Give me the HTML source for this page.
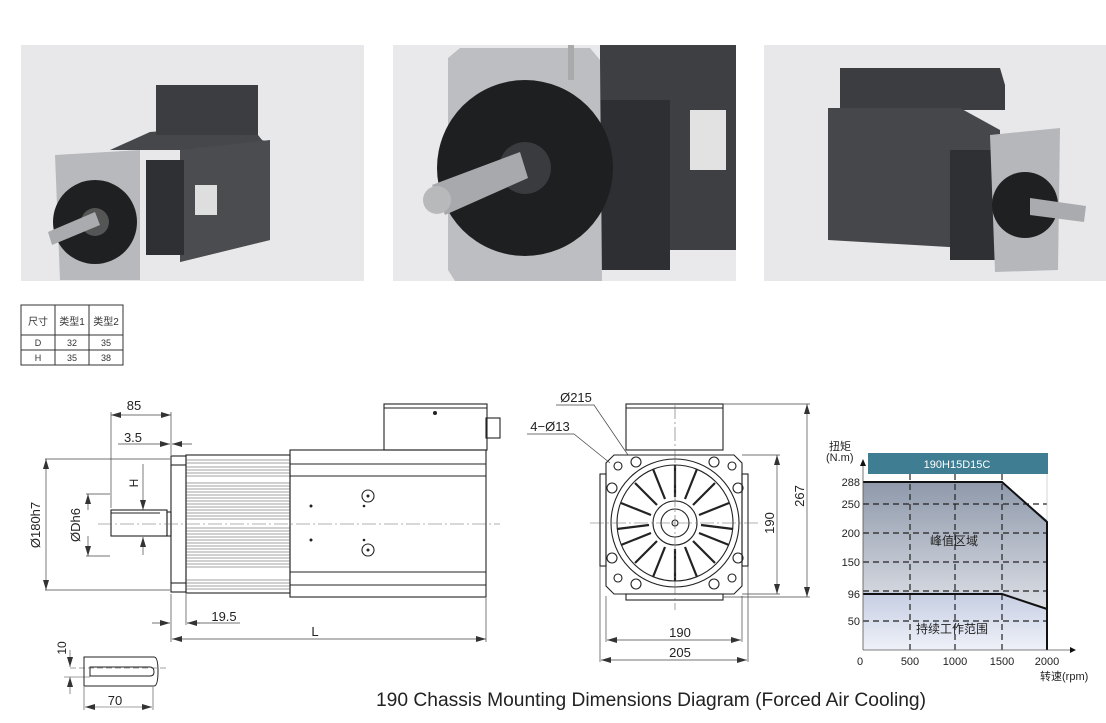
<!DOCTYPE html>
<html><head><meta charset="utf-8"><style>
html,body{margin:0;padding:0;background:#fff;}
svg{display:block;font-family:"Liberation Sans","Noto Sans CJK SC",sans-serif;}
</style></head><body>
<svg width="1106" height="723" viewBox="0 0 1106 723" xmlns="http://www.w3.org/2000/svg">
<defs>
<linearGradient id="pk" x1="0" y1="0" x2="0" y2="1"><stop offset="0" stop-color="#8f99ab"/><stop offset="1" stop-color="#f4f5f8"/></linearGradient>
<linearGradient id="ct" x1="0" y1="0" x2="0" y2="1"><stop offset="0" stop-color="#c5cde2"/><stop offset="1" stop-color="#eef1f8"/></linearGradient>
<marker id="ar" viewBox="0 0 10 6" refX="10" refY="3" markerWidth="10" markerHeight="6" orient="auto-start-reverse" markerUnits="userSpaceOnUse"><path d="M0,0L10,3L0,6z" fill="#333"/></marker>
</defs>
<!-- photos -->
<rect x="21" y="45" width="343" height="236" fill="#e8e8ea"/>
<rect x="393" y="45" width="343" height="236" fill="#e9e9eb"/>
<rect x="764" y="45" width="343" height="236" fill="#e8e8ea"/>
<!-- photo1 -->
<polygon points="156,90 258,88 258,135 262,140 270,143 270,240 180,262 180,150 110,150 150,132 200,128 200,88" fill="#45474b"/>
<rect x="156" y="85" width="102" height="50" fill="#3b3d41"/>
<polygon points="180,150 270,140 270,240 180,262" fill="#4a4c50"/>
<rect x="146" y="160" width="38" height="95" fill="#2e3033"/>
<polygon points="55,155 140,150 140,280 60,280" fill="#b8b9bc"/>
<circle cx="95" cy="222" r="42" fill="#1f2022"/>
<circle cx="95" cy="222" r="14" fill="#555"/>
<polygon points="48,232 95,212 100,225 52,245" fill="#a9abae"/>
<rect x="195" y="185" width="22" height="30" fill="#dedede"/>
<!-- photo2 -->
<polygon points="600,45 736,45 736,250 600,250" fill="#3d3f43"/>
<rect x="600" y="100" width="70" height="170" fill="#2d2f32"/>
<rect x="690" y="110" width="36" height="60" fill="#e2e2e2"/>
<polygon points="448,58 460,48 590,48 600,60 602,281 455,281 448,270" fill="#bdbec1"/>
<circle cx="525" cy="168" r="88" fill="#1e1f21"/>
<circle cx="525" cy="168" r="26" fill="#3a3b3e"/>
<polygon points="432,185 520,152 528,178 445,215" fill="#a7a9ac"/>
<circle cx="437" cy="200" r="14" fill="#b8b9bb"/>
<rect x="568" y="45" width="6" height="35" fill="#aaa"/>
<!-- photo3 -->
<polygon points="840,68 1000,68 1005,85 1005,110 840,110" fill="#3b3d41"/>
<polygon points="828,108 960,108 1000,130 1000,250 828,240" fill="#45474b"/>
<rect x="950" y="150" width="45" height="110" fill="#2e3033"/>
<polygon points="990,135 1060,128 1058,270 995,272" fill="#b6b7ba"/>
<circle cx="1025" cy="205" r="33" fill="#1f2022"/>
<polygon points="1030,198 1086,206 1084,222 1030,215" fill="#a9abae"/>
<!-- table -->
<g stroke="#333" stroke-width="1" fill="none">
<rect x="21" y="305" width="102" height="60"/>
<line x1="21" y1="335" x2="123" y2="335"/><line x1="21" y1="350" x2="123" y2="350"/>
<line x1="55" y1="305" x2="55" y2="365"/><line x1="89" y1="305" x2="89" y2="365"/>
</g>
<g font-size="10" fill="#333" text-anchor="middle">
<text x="38" y="325">尺寸</text><text x="72" y="325">类型1</text><text x="106" y="325">类型2</text>
<text x="38" y="346" font-size="9">D</text><text x="72" y="346" font-size="9">32</text><text x="106" y="346" font-size="9">35</text>
<text x="38" y="361" font-size="9">H</text><text x="72" y="361" font-size="9">35</text><text x="106" y="361" font-size="9">38</text>
</g>
<!-- left drawing -->
<g stroke="#222" stroke-width="1.1" fill="none">
<rect x="384" y="404" width="103" height="46"/>
<line x1="384" y1="408" x2="487" y2="408"/>
<rect x="486" y="418" width="14" height="20"/>
<rect x="290" y="450" width="196" height="147"/>
<line x1="290" y1="464" x2="486" y2="464"/><line x1="290" y1="476" x2="486" y2="476"/>
<line x1="290" y1="572" x2="486" y2="572"/><line x1="290" y1="585" x2="486" y2="585"/>
<rect x="171" y="456" width="15" height="136"/>
<line x1="171" y1="465" x2="186" y2="465"/><line x1="171" y1="583" x2="186" y2="583"/>
<rect x="186" y="455" width="104" height="138"/>
<rect x="111" y="510" width="56" height="26"/>
<line x1="111" y1="513" x2="160" y2="513"/>
<rect x="167" y="512" width="4" height="24"/>
<circle cx="368" cy="496" r="6"/><circle cx="368" cy="550" r="6"/>
</g>
<g stroke="#444" stroke-width="0.6">
<path d="M186,460H290M186,463H290M186,467H290M186,470H290M186,473H290M186,476H290M186,483H290M186,486H290M186,489H290M186,492H290M186,495H290M186,498H290M186,501H290M186,504H290M186,507H290M186,510H290M186,513H290M186,516H290M186,519H290M186,528H290M186,531H290M186,534H290M186,537H290M186,540H290M186,543H290M186,546H290M186,549H290M186,552H290M186,555H290M186,558H290M186,561H290M186,564H290M186,567H290M186,580H290M186,583H290M186,586H290M186,589H290"/>
</g>
<g fill="#222"><circle cx="368" cy="496" r="1.5"/><circle cx="368" cy="550" r="1.5"/><circle cx="311" cy="506" r="1.5"/><circle cx="311" cy="540" r="1.5"/><circle cx="364" cy="506" r="1.3"/><circle cx="364" cy="540" r="1.3"/><circle cx="435" cy="413" r="2"/></g>
<line x1="98" y1="524" x2="500" y2="524" stroke="#666" stroke-width="0.6" stroke-dasharray="14,3,2,3"/>
<g stroke="#444" stroke-width="0.7" fill="none">
<line x1="111" y1="412" x2="111" y2="508"/><line x1="171" y1="412" x2="171" y2="455"/>
<line x1="111" y1="415" x2="171" y2="415" marker-start="url(#ar)" marker-end="url(#ar)"/>
<line x1="118" y1="444" x2="160" y2="444"/><line x1="160" y1="444" x2="170" y2="444" marker-end="url(#ar)"/><line x1="192" y1="444" x2="172" y2="444" marker-end="url(#ar)"/>
<line x1="45" y1="459" x2="170" y2="459"/><line x1="45" y1="590" x2="170" y2="590"/>
<line x1="46" y1="459" x2="46" y2="590" marker-start="url(#ar)" marker-end="url(#ar)"/>
<line x1="86" y1="494" x2="110" y2="494"/><line x1="86" y1="556" x2="110" y2="556"/>
<line x1="88" y1="494" x2="88" y2="510" marker-start="url(#ar)"/><line x1="88" y1="536" x2="88" y2="556" marker-end="url(#ar)"/>
<line x1="143" y1="464" x2="143" y2="510" marker-end="url(#ar)"/><line x1="143" y1="555" x2="143" y2="537" marker-end="url(#ar)"/>
<line x1="171" y1="594" x2="171" y2="642"/><line x1="186" y1="594" x2="186" y2="625"/><line x1="486" y1="598" x2="486" y2="642"/>
<line x1="152" y1="623" x2="170" y2="623" marker-end="url(#ar)"/><line x1="240" y1="623" x2="187" y2="623"/><line x1="200" y1="623" x2="187" y2="623" marker-end="url(#ar)"/>
<line x1="172" y1="639" x2="486" y2="639" marker-start="url(#ar)" marker-end="url(#ar)"/>
</g>
<g font-size="13" fill="#222">
<text x="134" y="410" text-anchor="middle">85</text>
<text x="133" y="442" text-anchor="middle">3.5</text>
<text x="224" y="621" text-anchor="middle">19.5</text>
<text x="315" y="636" text-anchor="middle">L</text>
<text transform="translate(40,525) rotate(-90)" text-anchor="middle">Ø180h7</text>
<text transform="translate(80,525) rotate(-90)" text-anchor="middle">ØDh6</text>
<text transform="translate(138,483) rotate(-90)" text-anchor="middle" font-size="12">H</text>
<text x="115" y="705" text-anchor="middle">70</text>
<text transform="translate(66,648) rotate(-90)" text-anchor="middle" font-size="12">10</text>
</g>
<!-- key -->
<g stroke="#222" stroke-width="1" fill="none">
<path d="M84,657H154Q158,657 158,671Q158,686 154,686H84Z"/>
<path d="M90,667H150Q154,667 154,672Q154,676 150,676H90Z"/>
</g>
<g stroke="#444" stroke-width="0.6" fill="none">
<line x1="70" y1="668" x2="166" y2="668" stroke-dasharray="6,3"/>
<line x1="70" y1="650" x2="70" y2="667" marker-end="url(#ar)"/><line x1="70" y1="694" x2="70" y2="677" marker-end="url(#ar)"/>
<line x1="64" y1="677" x2="90" y2="677"/>
<line x1="84" y1="687" x2="84" y2="710"/><line x1="153" y1="687" x2="153" y2="710"/>
<line x1="85" y1="707" x2="152" y2="707" marker-start="url(#ar)" marker-end="url(#ar)"/>
</g>
<!-- middle drawing -->
<g stroke="#222" stroke-width="1.1" fill="none">
<rect x="626" y="404" width="97" height="46"/><line x1="626" y1="408" x2="723" y2="408"/>
<path d="M614,455H734L742,463V586L734,594H614L606,586V463Z"/>
<rect x="600" y="474" width="6" height="92"/><rect x="742" y="474" width="6" height="92"/>
<rect x="626" y="594" width="97" height="6"/>
<circle cx="675" cy="523" r="64"/><circle cx="675" cy="523" r="58"/>
<circle cx="675" cy="523" r="22"/><circle cx="675" cy="523" r="14"/><circle cx="675" cy="523" r="3"/>
<circle cx="636" cy="462" r="5"/><circle cx="714" cy="462" r="5"/><circle cx="636" cy="584" r="5"/><circle cx="714" cy="584" r="5"/>
<circle cx="612" cy="488" r="5"/><circle cx="738" cy="488" r="5"/><circle cx="612" cy="558" r="5"/><circle cx="738" cy="558" r="5"/>
<circle cx="618" cy="466" r="4"/><circle cx="732" cy="466" r="4"/><circle cx="618" cy="578" r="4"/><circle cx="732" cy="578" r="4"/>
</g>
<g stroke="#222" stroke-width="2.2">
<path d="M675,523m0,-26v-32M675,523m10,-24l12,-30M675,523m18,-18l22,-22M675,523m24,-8l30,-12M675,523m26,2l32,4M675,523m24,10l30,12M675,523m18,18l22,22M675,523m10,24l12,30M675,523m0,26v32M675,523m-10,24l-12,30M675,523m-18,18l-22,22M675,523m-24,10l-30,12M675,523m-26,2l-32,4M675,523m-24,-8l-30,-12M675,523m-18,-18l-22,-22M675,523m-10,-24l-12,-30"/>
</g>
<g stroke="#666" stroke-width="0.6" fill="none">
<line x1="590" y1="523" x2="760" y2="523" stroke-dasharray="14,3,2,3"/>
<line x1="675" y1="405" x2="675" y2="610" stroke-dasharray="14,3,2,3"/>
</g>
<g stroke="#444" stroke-width="0.7" fill="none">
<line x1="723" y1="404" x2="810" y2="404"/><line x1="742" y1="455" x2="780" y2="455"/><line x1="742" y1="594" x2="780" y2="594"/><line x1="723" y1="597" x2="810" y2="597"/>
<line x1="777" y1="455" x2="777" y2="594" marker-start="url(#ar)" marker-end="url(#ar)"/>
<line x1="807" y1="404" x2="807" y2="597" marker-start="url(#ar)" marker-end="url(#ar)"/>
<line x1="606" y1="596" x2="606" y2="642"/><line x1="742" y1="596" x2="742" y2="642"/>
<line x1="600" y1="566" x2="600" y2="662"/><line x1="748" y1="566" x2="748" y2="662"/>
<line x1="607" y1="640" x2="741" y2="640" marker-start="url(#ar)" marker-end="url(#ar)"/>
<line x1="601" y1="660" x2="747" y2="660" marker-start="url(#ar)" marker-end="url(#ar)"/>
<polyline points="556,405 594,405 628,455"/>
<polyline points="527,434 574,434 610,463"/>
</g>
<g font-size="13" fill="#222">
<text x="576" y="402" text-anchor="middle">Ø215</text>
<text x="550" y="431" text-anchor="middle">4−Ø13</text>
<text x="680" y="637" text-anchor="middle">190</text>
<text x="680" y="657" text-anchor="middle">205</text>
<text transform="translate(774,523) rotate(-90)" text-anchor="middle">190</text>
<text transform="translate(804,496) rotate(-90)" text-anchor="middle">267</text>
</g>
<!-- chart -->
<polygon points="863,482 1002,482 1047,520 1047,650 863,650" fill="url(#pk)"/>
<polygon points="863,592 1002,592 1047,609 1047,650 863,650" fill="url(#ct)"/>
<rect x="868" y="453" width="180" height="21" fill="#3f7d92"/>
<text x="957" y="468" font-size="11" fill="#fff" text-anchor="middle">190H15D15C</text>
<g stroke="#222" stroke-width="1.2" stroke-dasharray="6,4" fill="none">
<line x1="910" y1="474" x2="910" y2="650"/><line x1="955" y1="474" x2="955" y2="650"/><line x1="1002" y1="474" x2="1002" y2="650"/>
<line x1="863" y1="504" x2="1047" y2="504"/><line x1="863" y1="533" x2="1047" y2="533"/><line x1="863" y1="562" x2="1047" y2="562"/><line x1="863" y1="591" x2="1047" y2="591"/><line x1="863" y1="621" x2="1047" y2="621"/>
</g>
<line x1="1047" y1="474" x2="1047" y2="650" stroke="#bbb" stroke-width="0.6"/>
<g stroke="#111" stroke-width="2" fill="none">
<polyline points="863,482 1002,482 1047,522 1047,650"/>
<polyline points="863,594 1002,594 1047,609"/>
</g>
<g stroke="#555" stroke-width="0.8"><line x1="863" y1="650" x2="1070" y2="650"/><line x1="863" y1="650" x2="863" y2="460"/></g>
<path d="M1070,647L1076,650L1070,653Z" fill="#111"/><path d="M860,466L863,459L866,466Z" fill="#111"/>
<g font-size="11" fill="#222">
<text x="829" y="450" font-size="11">扭矩</text><text x="826" y="461" font-size="11">(N.m)</text>
<g text-anchor="end"><text x="860" y="486">288</text><text x="860" y="508">250</text><text x="860" y="537">200</text><text x="860" y="566">150</text><text x="860" y="598">96</text><text x="860" y="625">50</text></g>
<g text-anchor="middle"><text x="860" y="665">0</text><text x="910" y="665">500</text><text x="955" y="665">1000</text><text x="1002" y="665">1500</text><text x="1047" y="665">2000</text></g>
<text x="1040" y="680" font-size="11">转速(rpm)</text>
<text x="930" y="545" font-size="12">峰值区域</text>
<text x="916" y="633" font-size="12">持续工作范围</text>
</g>
<text x="376" y="706" font-size="19" fill="#222" textLength="550" lengthAdjust="spacingAndGlyphs">190 Chassis Mounting Dimensions Diagram (Forced Air Cooling)</text>
</svg>
</body></html>
